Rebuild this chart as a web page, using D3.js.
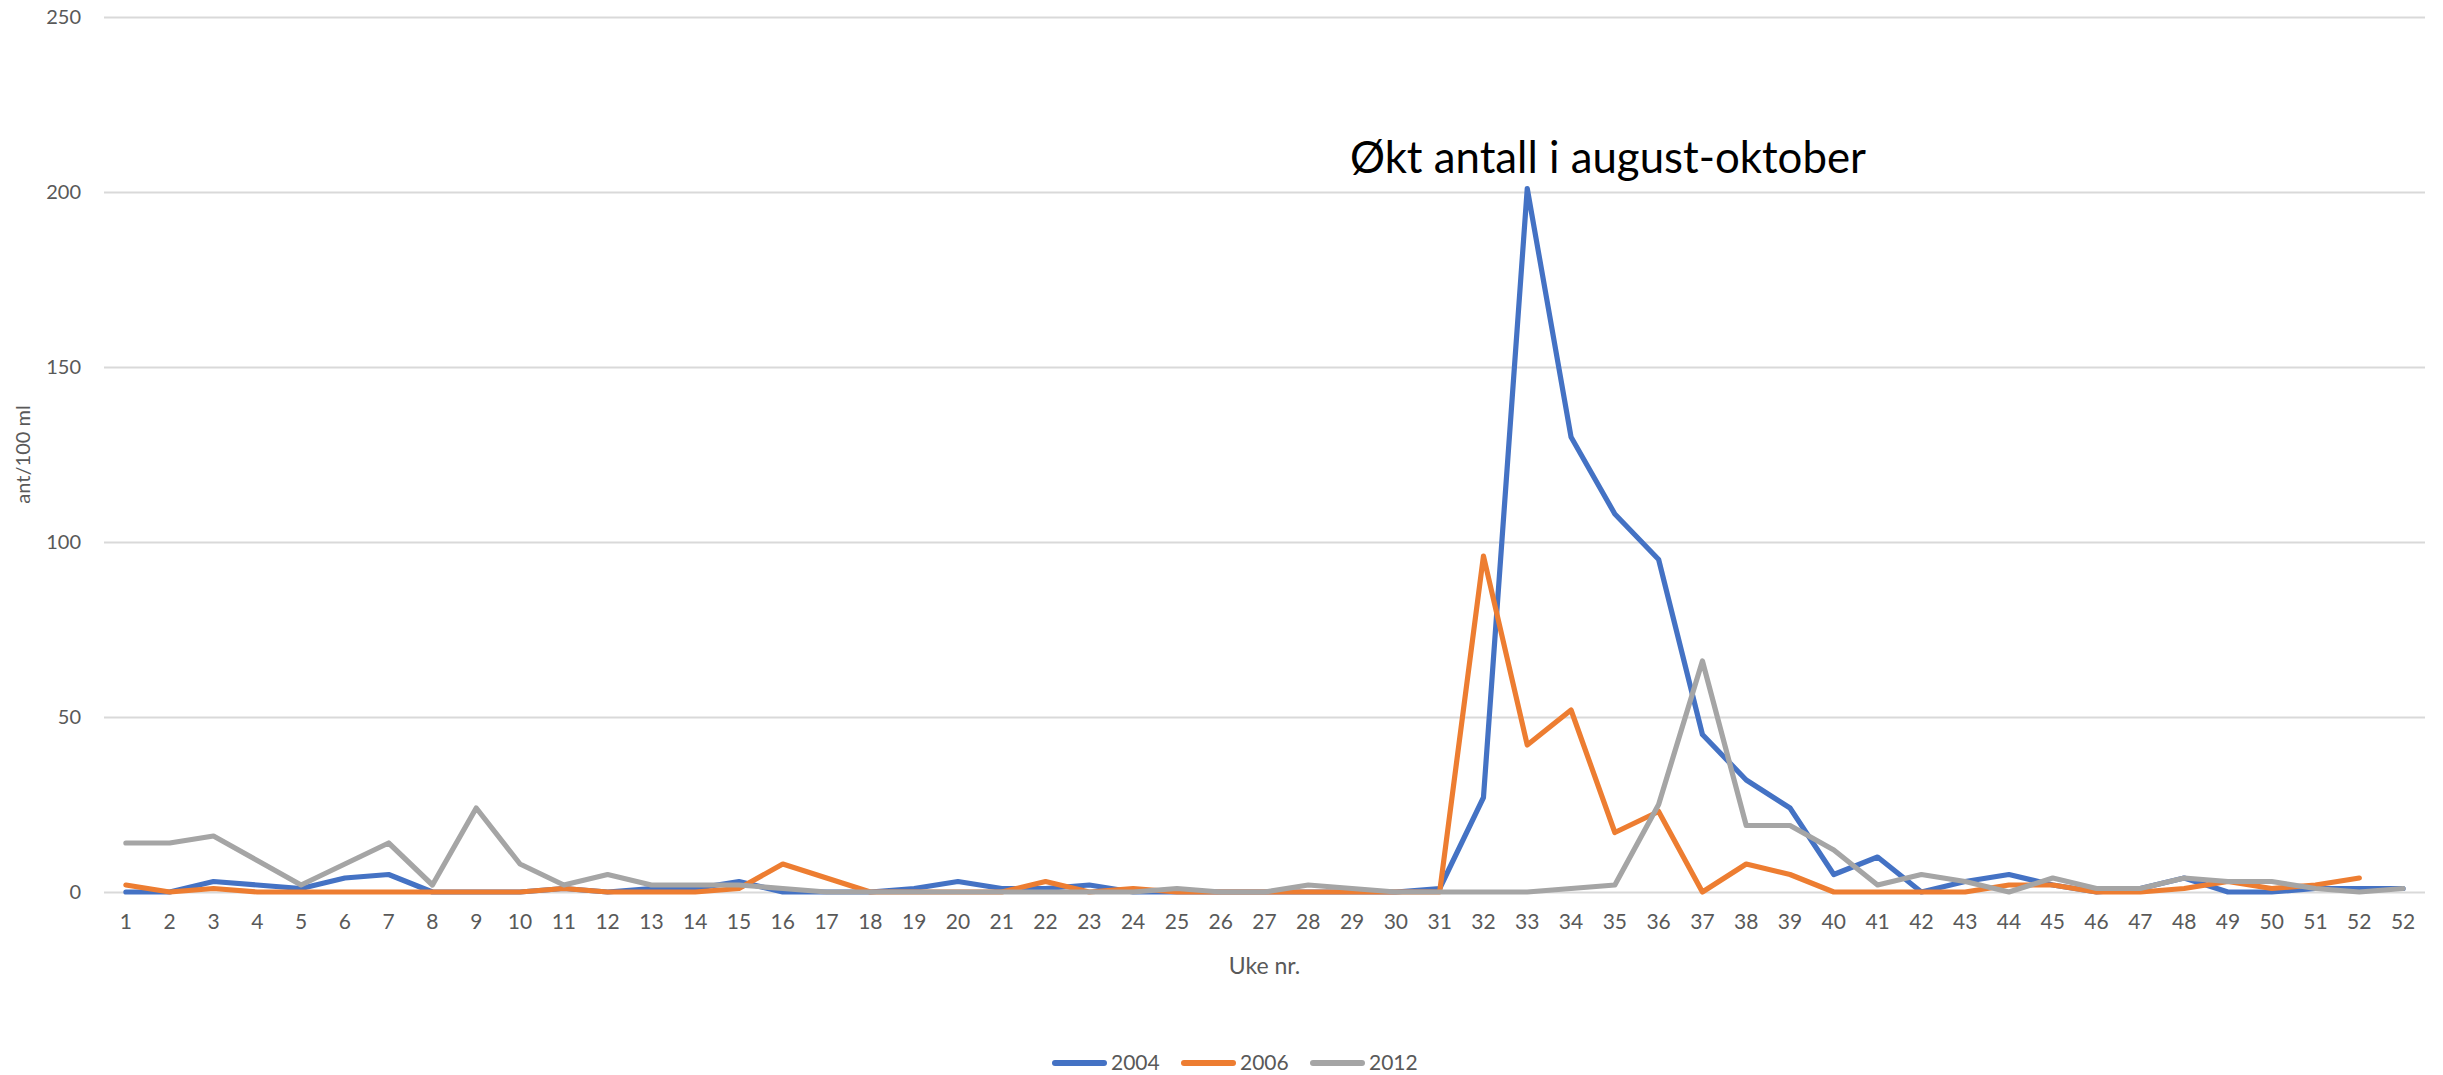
<!DOCTYPE html>
<html>
<head>
<meta charset="utf-8">
<script src="https://cdn.jsdelivr.net/npm/d3@7"></script>
<style>
    body { margin: 0; background: #fff; }
    text { font-family: Lato, "Open Sans", sans-serif; }
</style>
</head>
<body>
<svg id="chart"></svg>
<script>
// Week labels on the x axis (the source has 52 twice at the end)
const weeks = [1, 2, 3, 4, 5, 6, 7, 8, 9, 10, 11, 12, 13, 14, 15, 16, 17, 18, 19, 20,
    21, 22, 23, 24, 25, 26, 27, 28, 29, 30, 31, 32, 33, 34, 35, 36, 37, 38, 39, 40,
    41, 42, 43, 44, 45, 46, 47, 48, 49, 50, 51, 52, 52];

const years = ['2004', '2006', '2012'];

// ant/100 ml per week
const v2004 = [0, 0, 3, 2, 1, 4, 5, 0, 0, 0, 1, 0, 1, 1, 3, 0, 0, 0, 1, 3,
    1, 1, 2, 0, 0, 0, 0, 0, 0, 0, 1, 27, 201, 130, 108, 95, 45, 32, 24, 5,
    10, 0, 3, 5, 2, 0, 1, 4, 0, 0, 1, 1, 1];
const v2006 = [2, 0, 1, 0, 0, 0, 0, 0, 0, 0, 1, 0, 0, 0, 1, 8, 4, 0, 0, 0,
    0, 3, 0, 1, 0, 0, 0, 0, 0, 0, 0, 96, 42, 52, 17, 23, 0, 8, 5, 0,
    0, 0, 0, 2, 2, 0, 0, 1, 3, 1, 2, 4, null];
const v2012 = [14, 14, 16, 9, 2, 8, 14, 2, 24, 8, 2, 5, 2, 2, 2, 1, 0, 0, 0, 0,
    0, 0, 0, 0, 1, 0, 0, 2, 1, 0, 0, 0, 0, 1, 2, 25, 66, 19, 19, 12,
    2, 5, 3, 0, 4, 1, 1, 4, 3, 3, 1, 0, 1];

const yTicks = [0, 50, 100, 150, 200, 250];

const annotation = 'Økt antall i august-oktober';
const yTitle = 'ant/100 ml';
const xTitle = 'Uke nr.';

/**
 * Visual configs.
 */
const visWidth = 2443, visHeight = 1075;
const margin = { top: 17, right: 18, bottom: 183, left: 104 };
const width = visWidth - margin.left - margin.right,
    height = visHeight - margin.top - margin.bottom;

const colors = { '2004': '#4472c4', '2006': '#ed7d31', '2012': '#a5a5a5' };
const textColor = '#595959';

const series = [
    { key: '2004', values: v2004 },
    { key: '2006', values: v2006 },
    { key: '2012', values: v2012 }
];

/**
 * Scales.
 */
const x = d3.scaleBand()
    .domain(weeks.map((d, i) => i))
    .range([0, width]);

const y = d3.scaleLinear()
    .domain([0, 250])
    .range([height, 0]);

const cx = i => x(i) + x.bandwidth() / 2;

/**
 * DOM.
 */
const svg = d3.select('#chart')
    .attr('width', visWidth)
    .attr('height', visHeight);

const g = svg.append('g')
    .attr('transform', 'translate(' + margin.left + ',' + margin.top + ')');

// Gridlines + y labels
const yAxis = g.append('g')
    .call(d3.axisLeft(y).tickValues(yTicks).tickSize(-width).tickPadding(23));
yAxis.select('.domain').remove();
yAxis.selectAll('.tick line').attr('stroke', '#d9d9d9').attr('stroke-width', 2);
yAxis.selectAll('.tick text')
    .attr('fill', textColor)
    .style('font-size', '20px');

// X labels
const xAxis = g.append('g')
    .attr('transform', 'translate(0,' + height + ')')
    .call(d3.axisBottom(x).tickFormat(i => weeks[i]).tickSize(0).tickPadding(22));
xAxis.select('.domain').remove();
xAxis.selectAll('.tick text')
    .attr('fill', textColor)
    .style('font-size', '21px');

// Lines
const line = d3.line()
    .defined(d => d.v != null)
    .x(d => cx(d.i))
    .y(d => y(d.v));

g.append('g').attr('class', 'lines')
    .selectAll('path')
    .data(series)
    .join('path')
    .attr('d', s => line(s.values.map((v, i) => ({ i: i, v: v }))))
    .attr('fill', 'none')
    .attr('stroke', s => colors[s.key])
    .attr('stroke-width', 5.2)
    .attr('stroke-linejoin', 'round')
    .attr('stroke-linecap', 'round');

// Axis titles
svg.append('text')
    .attr('transform', 'translate(30,' + (margin.top + height / 2) + ') rotate(-90)')
    .attr('text-anchor', 'middle')
    .attr('fill', textColor)
    .style('font-size', '20px')
    .text(yTitle);

svg.append('text')
    .attr('x', margin.left + width / 2)
    .attr('y', 974)
    .attr('text-anchor', 'middle')
    .attr('fill', textColor)
    .style('font-size', '23px')
    .text(xTitle);

// Annotation
svg.append('text')
    .attr('x', 1350)
    .attr('y', 173)
    .attr('fill', '#000')
    .attr('textLength', 516)
    .attr('lengthAdjust', 'spacingAndGlyphs')
    .style('font-size', '45px')
    .text(annotation);

// Legend
const legend = svg.append('g')
    .attr('transform', 'translate(1052,1063)');

const items = legend.selectAll('g')
    .data(years)
    .join('g')
    .attr('transform', (d, i) => 'translate(' + (i * 129) + ',0)');

items.append('line')
    .attr('x1', 3).attr('x2', 52)
    .attr('stroke', d => colors[d])
    .attr('stroke-width', 6)
    .attr('stroke-linecap', 'round');

items.append('text')
    .attr('x', 59)
    .attr('dy', '0.35em')
    .attr('fill', textColor)
    .style('font-size', '21px')
    .text(d => d);
</script>
</body>
</html>
